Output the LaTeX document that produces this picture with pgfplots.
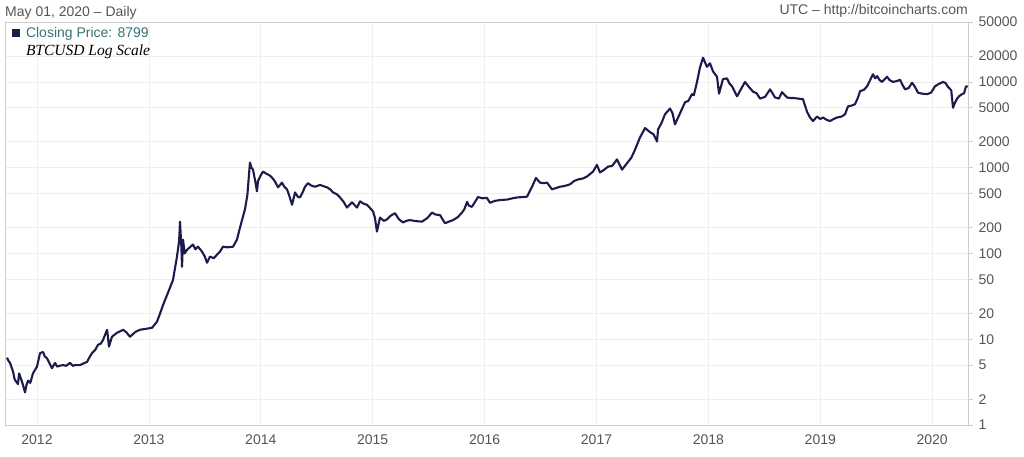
\documentclass[border=0pt]{standalone}
\usepackage{pgfplots}
\pgfplotsset{compat=1.18}
\usepackage{fontspec}
\setmainfont{Liberation Sans}
\newfontfamily\capfont{Liberation Serif}

\definecolor{btcline}{RGB}{28,28,76}
\definecolor{gridc}{RGB}{238,238,238}
\definecolor{framec}{RGB}{205,205,205}
\definecolor{labc}{RGB}{85,85,85}
\definecolor{legc}{RGB}{55,115,115}

\begin{document}
\begin{tikzpicture}[x=1pt,y=1pt]
\path[use as bounding box] (0,0) rectangle (1024,456);

\node[anchor=west, text=labc, font=\fontsize{14}{16}\selectfont, inner sep=0pt]
  at (5,443) {May 01, 2020 -- Daily};
\node[anchor=east, text=labc, font=\fontsize{14}{16}\selectfont, inner sep=0pt]
  at (968,445) {UTC -- http://bitcoincharts.com};

\begin{axis}[
  at={(5pt,31pt)}, anchor=south west,
  scale only axis, width=963pt, height=403pt,
  xmin=2011.714, xmax=2020.320,
  ymode=log, ymin=1, ymax=50000,
  axis line style={draw=framec},
  grid=major,
  major grid style={draw=gridc, line width=0.8pt},
  xtick={2012,2013,2014,2015,2016,2017,2018,2019,2020},
  xticklabels={2012,2013,2014,2015,2016,2017,2018,2019,2020},
  x tick style={draw=none},
  ytick={1,2,5,10,20,50,100,200,500,1000,2000,5000,10000,20000,50000},
  yticklabels={1,2,5,10,20,50,100,200,500,1000,2000,5000,10000,20000,50000},
  ytick pos=right, yticklabel pos=right,
  y tick style={draw=framec, line width=0.8pt},
  tick align=outside, major tick length=5pt,
  minor tick num=0,
  ticklabel style={text=labc, font=\fontsize{14}{16}\selectfont},
  yticklabel style={anchor=west, xshift=2pt},
  xticklabel style={yshift=-1pt},
  /pgf/number format/assume math mode=true,
  legend style={at={(0.005,0.995)}, anchor=north west, draw=none, fill=none,
    font=\fontsize{14}{16}\selectfont, inner sep=1pt,
    row sep=2pt, cells={anchor=west}},
  legend cell align=left,
]
\addplot[btcline, line width=2.1pt, line join=round, no marks, forget plot] coordinates {
(2011.732,6.1) (2011.745,5.6) (2011.759,5.3) (2011.786,4.2) (2011.800,3.4)
(2011.830,3.0) (2011.840,4.0) (2011.866,3.2) (2011.893,2.4) (2011.905,2.9)
(2011.920,3.3) (2011.940,3.1) (2011.964,4.0) (2012.000,4.8) (2012.027,6.9)
(2012.054,7.1) (2012.070,6.3) (2012.089,6.0) (2012.110,5.3) (2012.134,4.6)
(2012.161,5.3) (2012.180,4.8) (2012.200,4.9) (2012.232,5.0) (2012.260,4.9)
(2012.295,5.3) (2012.320,4.9) (2012.340,5.0) (2012.384,5.0) (2012.447,5.45)
(2012.470,6.2) (2012.492,6.9) (2012.520,7.5) (2012.545,8.6) (2012.570,8.9)
(2012.590,9.8) (2012.626,12.9) (2012.633,11.0) (2012.643,8.2) (2012.670,10.7)
(2012.715,11.9) (2012.745,12.4) (2012.769,12.9) (2012.800,12.0) (2012.831,10.7)
(2012.880,12.2) (2012.920,12.9) (2012.970,13.2) (2013.028,13.6) (2013.072,16)
(2013.100,20) (2013.126,25) (2013.171,35) (2013.215,49) (2013.251,92)
(2013.270,140) (2013.278,235) (2013.290,120) (2013.296,70) (2013.305,145)
(2013.320,100) (2013.340,110) (2013.365,118) (2013.394,127) (2013.415,112)
(2013.439,120) (2013.475,105) (2013.500,92) (2013.519,78) (2013.546,92)
(2013.580,88) (2013.609,97) (2013.635,105) (2013.662,120) (2013.700,118)
(2013.752,120) (2013.787,145) (2013.814,200) (2013.859,330) (2013.880,480)
(2013.903,1150) (2013.917,1000) (2013.930,950) (2013.950,700) (2013.966,530)
(2013.975,700) (2014.000,820) (2014.020,900) (2014.050,850) (2014.082,810)
(2014.110,740) (2014.127,690) (2014.154,590) (2014.189,670) (2014.210,600)
(2014.234,560) (2014.255,470) (2014.279,370) (2014.306,515) (2014.330,460)
(2014.350,450) (2014.375,520) (2014.395,600) (2014.422,660) (2014.450,620)
(2014.485,600) (2014.529,630) (2014.560,610) (2014.592,590) (2014.620,560)
(2014.645,515) (2014.680,490) (2014.708,450) (2014.740,400) (2014.770,343)
(2014.815,395) (2014.835,370) (2014.860,343) (2014.887,405) (2014.920,380)
(2014.949,370) (2014.975,340) (2015.003,310) (2015.020,260) (2015.038,180)
(2015.065,262) (2015.100,240) (2015.128,250) (2015.160,275) (2015.199,295)
(2015.235,250) (2015.271,230) (2015.300,240) (2015.333,245) (2015.390,238)
(2015.441,235) (2015.490,260) (2015.530,300) (2015.560,285) (2015.602,280)
(2015.646,225) (2015.680,235) (2015.718,245) (2015.760,265) (2015.798,300)
(2015.820,330) (2015.843,400) (2015.860,360) (2015.887,350) (2015.941,455)
(2015.980,440) (2016.021,445) (2016.048,390) (2016.090,410) (2016.138,420)
(2016.200,425) (2016.250,440) (2016.290,450) (2016.340,455) (2016.379,460)
(2016.424,600) (2016.459,760) (2016.495,670) (2016.530,660) (2016.558,670)
(2016.602,560) (2016.640,580) (2016.674,600) (2016.720,615) (2016.763,640)
(2016.800,700) (2016.835,730) (2016.880,750) (2016.915,790) (2016.969,900)
(2017.004,1080) (2017.031,880) (2017.070,950) (2017.103,1030) (2017.140,1050)
(2017.183,1250) (2017.228,950) (2017.282,1170) (2017.310,1300) (2017.344,1620)
(2017.389,2260) (2017.434,2900) (2017.478,2600) (2017.510,2450) (2017.541,2020)
(2017.550,2800) (2017.580,3300) (2017.612,4200) (2017.657,4900) (2017.680,4300)
(2017.701,3200) (2017.746,4300) (2017.791,5800) (2017.820,6000) (2017.853,7200)
(2017.870,7000) (2017.898,10000) (2017.925,14800) (2017.952,19200) (2017.987,15000)
(2018.014,16500) (2018.041,13300) (2018.077,11500) (2018.095,7300) (2018.130,10800)
(2018.166,11000) (2018.190,9500) (2018.211,8900) (2018.256,6800) (2018.290,8200)
(2018.327,10000) (2018.360,8800) (2018.399,7700) (2018.430,7400) (2018.461,6400)
(2018.506,6700) (2018.551,8200) (2018.575,7300) (2018.595,6600) (2018.630,6400)
(2018.658,7600) (2018.702,6600) (2018.730,6500) (2018.756,6500) (2018.800,6400)
(2018.845,6300) (2018.881,4500) (2018.908,3850) (2018.935,3500) (2018.970,3950)
(2019.000,3700) (2019.024,3850) (2019.060,3600) (2019.087,3500) (2019.120,3700)
(2019.149,3850) (2019.190,3950) (2019.221,4200) (2019.248,5200) (2019.280,5300)
(2019.310,5500) (2019.335,6500) (2019.355,7800) (2019.390,8100) (2019.418,8900)
(2019.471,12300) (2019.490,11000) (2019.507,11700) (2019.530,10500) (2019.552,10000)
(2019.596,11500) (2019.620,10500) (2019.650,10000) (2019.690,10300) (2019.712,10600)
(2019.730,9500) (2019.757,8200) (2019.790,8500) (2019.820,9800) (2019.845,8800)
(2019.873,7500) (2019.910,7300) (2019.954,7200) (2019.990,7500) (2020.025,8900)
(2020.060,9500) (2020.097,10000) (2020.120,9700) (2020.139,8800) (2020.170,8000)
(2020.186,5000) (2020.200,5600) (2020.222,6400) (2020.245,6900) (2020.266,7200)
(2020.285,7400) (2020.302,8900) (2020.318,8800)
};
\addlegendimage{legend image code/.code={\fill[btcline] (1pt,-3.5pt) rectangle (8pt,3.5pt); \path[draw=none, fill=none] (0pt,0pt) rectangle (13pt,0.1pt);}}
\addlegendentry[text=legc]{Closing Price: 8799}
\addlegendimage{empty legend}
\addlegendentry[font=\capfont\itshape\fontsize{15.5}{17}\selectfont]{BTCUSD Log Scale}
\end{axis}
\end{tikzpicture}
\end{document}
